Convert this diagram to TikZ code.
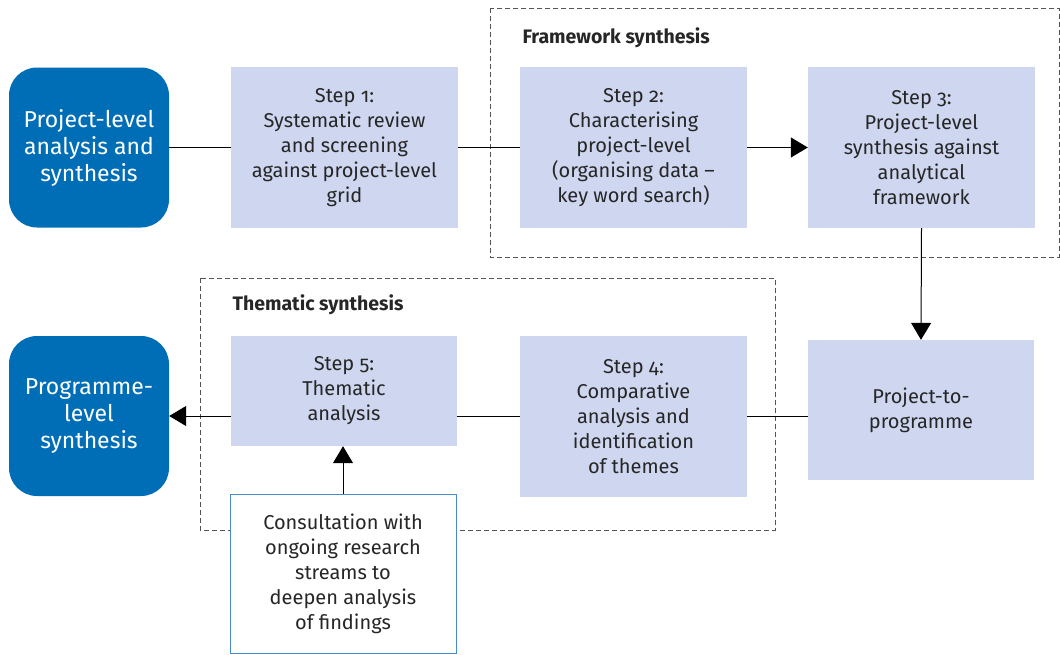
\documentclass[tikz,border=0pt]{standalone}
\usepackage{fontspec}
\setmainfont{Fira Sans}[Numbers=OldStyle]
\usetikzlibrary{arrows.meta}
\definecolor{stepfill}{RGB}{207,215,240}
\definecolor{bluebox}{RGB}{0,110,182}
\definecolor{consborder}{RGB}{70,140,205}
\definecolor{dashgray}{RGB}{85,85,85}
\tikzset{
  x=1pt,y=-1pt,
  stepbox/.style={fill=stepfill, draw=none, align=center, inner sep=0pt,
    font=\fontsize{20}{25}\selectfont, text=black!85},
  termbox/.style={fill=bluebox, draw=none, rounded corners=28pt, align=center, inner sep=0pt,
    minimum width=160pt, minimum height=160pt, text=white, font=\fontsize{23}{27}\selectfont},
  consbox/.style={fill=white, draw=consborder, line width=1pt, align=center, inner sep=0pt,
    font=\fontsize{20}{25}\selectfont, text=black!85},
  groupbox/.style={draw=dashgray, line width=1pt, dash pattern=on 5pt off 3pt},
  grouplabel/.style={anchor=west, font=\bfseries\fontsize{19.5}{22}\selectfont, text=black!85},
  conn/.style={line width=1pt, black},
  arr/.style={conn, -{Triangle[length=17pt,width=20pt]}},
}
\begin{document}
\begin{tikzpicture}
\useasboundingbox (0,0) rectangle (1060,654);
% group boxes
\draw[groupbox] (490,8) rectangle (1059,257);
\node[grouplabel] (fwlabel) at (519,38) {Framework synthesis};
\draw[groupbox] (200,278) rectangle (775,530);
\node[grouplabel] (thlabel) at (229,305) {Thematic synthesis};
% nodes
\node[termbox] (pla) at (89,147.5) {Project-level\\analysis and\\synthesis};
\node[stepbox, minimum width=227pt, minimum height=161pt] (s1) at (344.5,147.5)
  {Step 1:\\Systematic review\\and screening\\against project-level\\grid};
\node[stepbox, minimum width=227pt, minimum height=161pt] (s2) at (633.5,147.5)
  {Step 2:\\Characterising\\project-level\\(organising data –\\key word search)};
\node[stepbox, minimum width=227pt, minimum height=161pt] (s3) at (921.5,147.5)
  {Step 3:\\Project-level\\synthesis against\\analytical\\framework};
\node[stepbox, minimum width=226pt, minimum height=140pt] (p2p) at (921,410)
  {Project-to-\\programme};
\node[stepbox, minimum width=227pt, minimum height=161pt] (s4) at (633.5,416.5)
  {Step 4:\\Comparative\\analysis and\\identification\\of themes};
\node[stepbox, minimum width=226pt, minimum height=110pt] (s5) at (344,391)
  {Step 5:\\Thematic\\analysis};
\node[termbox] (pls) at (89,416) {Programme-\\level\\synthesis};
\node[consbox, minimum width=226pt, minimum height=159pt] (cons) at (343,573.5)
  {Consultation with\\ongoing research\\streams to\\deepen analysis\\of findings};
% connectors
\draw[conn] (pla.east) -- (s1.west);
\draw[conn] (s1.east) -- (s2.west);
\draw[arr] (s2.east) -- (s3.west);
\draw[arr] (s3.south) -- (p2p.north);
\draw[conn] (p2p.west |- s4.east) -- (s4.east);
\draw[conn] (s4.west) -- (s4.west -| s5.east);
\draw[arr] (s5.west |- pls.east) -- (pls.east);
\draw[arr] (cons.north) -- (cons.north |- s5.south);
\end{tikzpicture}
\end{document}
